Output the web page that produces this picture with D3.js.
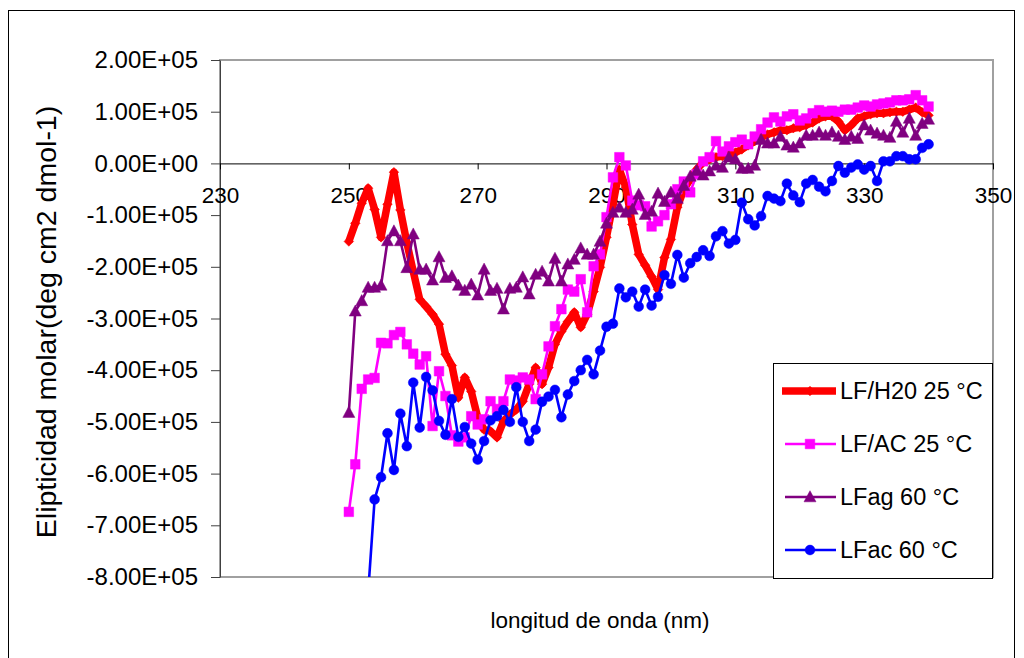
<!DOCTYPE html>
<html>
<head>
<meta charset="utf-8">
<script src="https://cdn.jsdelivr.net/npm/d3@7"></script>
<style>
  html, body { margin: 0; padding: 0; background: #fff; }
  svg text { font-family: "Liberation Sans", Arial, sans-serif; fill: #000; }
</style>
</head>
<body>
<svg id="chart" width="1024" height="658"></svg>
<script>
// Wavelength grid (nm)
const wavelength = [250,251,252,253,254,255,256,257,258,259,260,261,262,263,264,265,266,267,268,269,
  270,271,272,273,274,275,276,277,278,279,280,281,282,283,284,285,286,287,288,289,
  290,291,292,293,294,295,296,297,298,299,300,301,302,303,304,305,306,307,308,309,
  310,311,312,313,314,315,316,317,318,319,320,321,322,323,324,325,326,327,328,329,
  330,331,332,333,334,335,336,337,338,339,340];

// Molar ellipticity (deg cm2 dmol-1), one value per wavelength
const lfH2O25 = [-151000,-116000,-77000,-48000,-89000,-143000,-79000,-17000,-90000,-153000,
  -209000,-263000,-277000,-292000,-311000,-369000,-391000,-453000,-414000,-441000,
  -491000,-515000,-518000,-530000,-499000,-486000,-476000,-460000,-427000,-395000,
  -427000,-395000,-350000,-325000,-306000,-288000,-317000,-292000,-248000,-201000,
  -143000,-79000,-12000,-46000,-118000,-176000,-197000,-219000,-244000,-182000,
  -147000,-85000,-50000,-31000,-12000,2000,8000,12000,14000,17000,
  21000,27000,35000,43000,50000,56000,60000,64000,64000,68000,
  70000,74000,79000,87000,91000,91000,81000,64000,74000,87000,
  91000,95000,97000,97000,99000,100000,100000,104000,108000,99000,93000];

const lfAC25 = [-674000,-582000,-436000,-418000,-415000,-347000,-348000,-332000,-326000,-350000,
  -368000,-389000,-373000,-508000,-402000,-450000,-526000,-538000,-530000,-489000,
  -505000,-495000,-460000,-475000,-460000,-418000,-420000,-414000,-418000,-456000,
  -408000,-354000,-315000,-282000,-244000,-248000,-224000,-288000,-199000,-176000,
  -104000,-27000,12000,-4000,-72000,-81000,-83000,-122000,-112000,-100000,
  -79000,-50000,-35000,-56000,-21000,4000,12000,43000,23000,33000,
  41000,46000,37000,52000,66000,79000,89000,81000,91000,95000,
  83000,87000,97000,103000,100000,102000,100000,104000,104000,108000,
  112000,110000,114000,116000,118000,122000,122000,124000,132000,122000,110000];

const lfag60 = [-482000,-286000,-266000,-240000,-240000,-236000,-150000,-131000,-150000,-202000,
  -137000,-205000,-205000,-226000,-181000,-221000,-218000,-236000,-246000,-234000,
  -255000,-205000,-246000,-242000,-282000,-242000,-240000,-220000,-253000,-215000,
  -209000,-228000,-184000,-228000,-195000,-186000,-164000,-176000,-176000,-151000,
  -116000,-95000,-85000,-95000,-89000,-60000,-99000,-93000,-58000,-74000,
  -56000,-68000,-43000,-25000,-14000,-23000,-15000,-4000,-8000,12000,
  8000,-10000,-10000,-4000,46000,39000,39000,52000,35000,31000,
  39000,54000,54000,60000,54000,60000,52000,46000,52000,48000,
  74000,64000,58000,54000,50000,81000,60000,87000,54000,77000,85000];

const lfac60 = [null,null,null,-830000,-650000,-607000,-522000,-593000,-484000,-547000,
  -424000,-511000,-413000,-439000,-498000,-525000,-456000,-529000,-510000,-542000,
  -573000,-537000,-497000,-489000,-477000,-500000,-433000,-500000,-537000,-515000,
  -461000,-451000,-438000,-491000,-447000,-421000,-400000,-380000,-408000,-362000,
  -316000,-310000,-242000,-259000,-248000,-277000,-244000,-275000,-258000,-216000,
  -233000,-177000,-221000,-193000,-181000,-168000,-179000,-141000,-131000,-155000,
  -148000,-76000,-108000,-120000,-102000,-63000,-68000,-73000,-39000,-62000,
  -75000,-39000,-32000,-45000,-54000,-34000,-5000,-18000,-8000,-2000,
  -12000,-5000,-34000,4000,4000,14000,14000,8000,8000,30000,37000];

const seriesNames = ["LF/H20 25 °C", "LF/AC 25 °C", "LFag 60 °C", "LFac 60 °C"];
const xTicks = [230, 250, 270, 290, 310, 330, 350];
const yTicks = [-800000,-700000,-600000,-500000,-400000,-300000,-200000,-100000,0,100000,200000];
const yTickLabels = ["-8.00E+05","-7.00E+05","-6.00E+05","-5.00E+05","-4.00E+05","-3.00E+05",
  "-2.00E+05","-1.00E+05","0.00E+00","1.00E+05","2.00E+05"];
const xTitle = "longitud de onda (nm)";
const yTitle = "Elipticidad molar(deg cm2 dmol-1)";

const series = [
  { name: seriesNames[0], values: lfH2O25, color: "#ff0000", width: 7.5, marker: "diamond", size: 4.8 },
  { name: seriesNames[1], values: lfAC25,  color: "#ff00ff", width: 2.6, marker: "square",  size: 4.8 },
  { name: seriesNames[2], values: lfag60,  color: "#800080", width: 2.6, marker: "triangle",size: 6 },
  { name: seriesNames[3], values: lfac60,  color: "#0000ff", width: 2.6, marker: "circle",  size: 4.9 }
];

const svg = d3.select("#chart");
const plot = { left: 220, right: 993, top: 60, bottom: 577 };
const FONT = 22.5;
const FONT_Y = 24;
const FONT_LEGEND = 23.5;
const FONT_YTITLE = 28.5;

const x = d3.scaleLinear().domain([230, 350]).range([plot.left, plot.right]);
const y = d3.scaleLinear().domain([-800000, 200000]).range([plot.bottom, plot.top]);

// outer chart frame
svg.append("rect")
  .attr("x", 8.5).attr("y", 10.5).attr("width", 1006).attr("height", 700)
  .attr("fill", "#fff").attr("stroke", "#000").attr("stroke-width", 1);

// plot area frame
svg.append("rect")
  .attr("x", plot.left).attr("y", plot.top)
  .attr("width", plot.right - plot.left).attr("height", plot.bottom - plot.top)
  .attr("fill", "#fff").attr("stroke", "#a0a0a0").attr("stroke-width", 2);

svg.append("clipPath").attr("id", "plotClip")
  .append("rect")
  .attr("x", plot.left).attr("y", plot.top)
  .attr("width", plot.right - plot.left).attr("height", plot.bottom - plot.top);

// y axis
const yAxis = d3.axisLeft(y)
  .tickValues(yTicks)
  .tickFormat((d, i) => yTickLabels[i])
  .tickSizeInner(9).tickSizeOuter(0).tickPadding(13);
const gy = svg.append("g").attr("transform", `translate(${plot.left},0)`).call(yAxis);
gy.select(".domain").attr("stroke", "#404040");
gy.selectAll(".tick line").attr("stroke", "#404040");
gy.selectAll("text")
  .attr("font-size", FONT_Y)
  .style("font-family", '"Liberation Sans", Arial, sans-serif');

// x axis crossing at zero
const xAxis = d3.axisBottom(x)
  .tickValues(xTicks)
  .tickFormat(d3.format("d"))
  .tickSizeInner(6).tickSizeOuter(0).tickPadding(18);
const gx = svg.append("g").attr("transform", `translate(0,${y(0)})`).call(xAxis);
gx.select(".domain").attr("stroke", "#000");
gx.selectAll(".tick line").attr("stroke", "#000");
gx.selectAll("text")
  .attr("font-size", FONT)
  .style("font-family", '"Liberation Sans", Arial, sans-serif');

// axis titles
svg.append("text")
  .attr("x", 600).attr("y", 628)
  .attr("text-anchor", "middle")
  .attr("font-size", FONT)
  .text(xTitle);

svg.append("text")
  .attr("transform", "translate(56,322) rotate(-90)")
  .attr("text-anchor", "middle")
  .attr("font-size", FONT_YTITLE)
  .text(yTitle);

// marker shapes
function markerPath(type, r) {
  if (type === "diamond") return `M0,${-r}L${r},0L0,${r}L${-r},0Z`;
  if (type === "square") return `M${-r},${-r}H${r}V${r}H${-r}Z`;
  if (type === "triangle") return `M0,${-r * 1.05}L${r},${r * 0.8}L${-r},${r * 0.8}Z`;
  return d3.symbol(d3.symbolCircle, Math.PI * r * r)();
}

const gData = svg.append("g").attr("clip-path", "url(#plotClip)");

series.forEach(s => {
  const pts = wavelength.map((w, i) => ({ w, v: s.values[i] })).filter(p => p.v !== null);
  const line = d3.line().x(p => x(p.w)).y(p => y(p.v));
  gData.append("path")
    .datum(pts)
    .attr("d", line)
    .attr("fill", "none")
    .attr("stroke", s.color)
    .attr("stroke-width", s.width)
    .attr("stroke-linejoin", "round");
  gData.append("g").selectAll("path")
    .data(pts)
    .join("path")
    .attr("transform", p => `translate(${x(p.w)},${y(p.v)})`)
    .attr("d", markerPath(s.marker, s.size))
    .attr("fill", s.color)
    .attr("stroke", s.color)
    .attr("stroke-width", 0.5);
});

// legend
const legend = svg.append("g");
legend.append("rect")
  .attr("x", 773.5).attr("y", 363.5).attr("width", 219).attr("height", 215)
  .attr("fill", "#fff").attr("stroke", "#000").attr("stroke-width", 1);
const legendRows = d3.scaleLinear().domain([0, 3]).range([391, 550]);
series.forEach((s, i) => {
  const ly = legendRows(i);
  legend.append("line")
    .attr("x1", s.width > 3 ? 782 : 785).attr("x2", 836)
    .attr("y1", ly).attr("y2", ly)
    .attr("stroke", s.color).attr("stroke-width", s.width);
  legend.append("path")
    .attr("transform", `translate(810,${ly})`)
    .attr("d", markerPath(s.marker, s.size))
    .attr("fill", s.color).attr("stroke", s.color).attr("stroke-width", 0.5);
  legend.append("text")
    .attr("x", 840).attr("y", ly).attr("dy", "0.36em")
    .attr("font-size", FONT_LEGEND)
    .text(s.name);
});
</script>
</body>
</html>
